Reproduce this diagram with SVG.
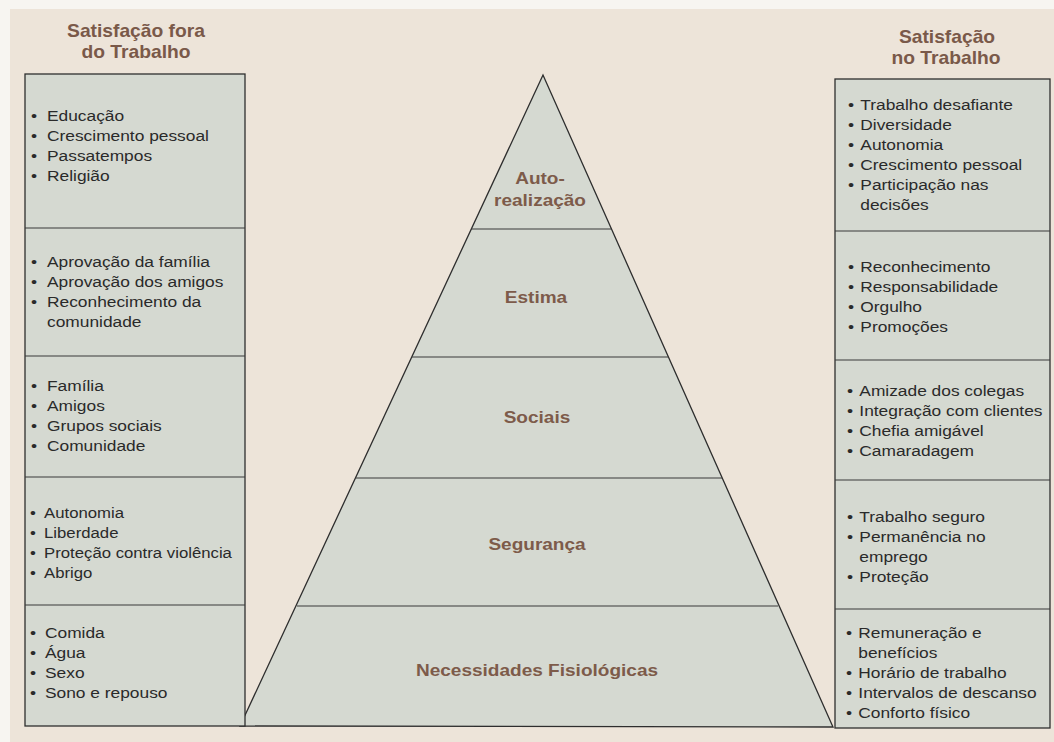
<svg xmlns="http://www.w3.org/2000/svg" width="1054" height="742" viewBox="0 0 1054 742">
<defs>
<style>
.bg{fill:#ede4d9}
.box{fill:#d5d9d1;stroke:#2e2e2e;stroke-width:1.3}
.div{stroke:#3a3a3a;stroke-width:1.1;fill:none}
.t{font-family:"Liberation Sans",Arial,sans-serif;font-size:15.5px;fill:#2a2a2a}
.h{font-family:"Liberation Sans",Arial,sans-serif;font-size:17.5px;font-weight:bold;fill:#7a5949;text-anchor:middle}
.p{font-family:"Liberation Sans",Arial,sans-serif;font-size:17px;font-weight:bold;fill:#7d5b4a;text-anchor:middle}
</style>
</defs>
<rect x="0" y="0" width="1054" height="742" fill="#f7f5f1"/>
<rect class="bg" x="10" y="9" width="1044" height="733"/>

<!-- Titles -->
<g id="title-left">
<text class="h" transform="translate(136,37) scale(1.1,1)">Satisfação fora</text>
<text class="h" transform="translate(136,58) scale(1.1,1)">do Trabalho</text>
</g>
<g id="title-right">
<text class="h" transform="translate(947,43) scale(1.1,1)">Satisfação</text>
<text class="h" transform="translate(946,64) scale(1.1,1)">no Trabalho</text>
</g>

<!-- Pyramid -->
<g id="pyramid">
<polygon class="box" points="543,75 240,726 833,727"/>
<line class="div" x1="471" y1="229" x2="611" y2="229"/>
<line class="div" x1="412" y1="357" x2="668" y2="357"/>
<line class="div" x1="356" y1="478" x2="722" y2="478"/>
<line class="div" x1="297" y1="606" x2="778" y2="606"/>
</g>
<g id="level-autorealizacao">
<text class="p" transform="translate(540,184) scale(1.12,1)">Auto-</text>
<text class="p" transform="translate(540,206) scale(1.12,1)">realização</text>
</g>
<g id="level-estima"><text class="p" transform="translate(536,303) scale(1.12,1)">Estima</text></g>
<g id="level-sociais"><text class="p" transform="translate(537,423) scale(1.12,1)">Sociais</text></g>
<g id="level-seguranca"><text class="p" transform="translate(537,550) scale(1.12,1)">Segurança</text></g>
<g id="level-fisiologicas"><text class="p" transform="translate(537,676) scale(1.12,1)">Necessidades Fisiológicas</text></g>

<!-- Left column -->
<g id="left-column">
<rect class="box" x="25" y="74" width="220" height="652"/>
<line class="div" x1="25" y1="228" x2="245" y2="228"/>
<line class="div" x1="25" y1="356" x2="245" y2="356"/>
<line class="div" x1="25" y1="477" x2="245" y2="477"/>
<line class="div" x1="25" y1="605" x2="245" y2="605"/>
</g>
<g id="left-autorealizacao" transform="translate(31,0) scale(1.12,1)">
<text class="t" x="0" y="121">•</text><text class="t" x="14.3" y="121">Educação</text>
<text class="t" x="0" y="141">•</text><text class="t" x="14.3" y="141">Crescimento pessoal</text>
<text class="t" x="0" y="161">•</text><text class="t" x="14.3" y="161">Passatempos</text>
<text class="t" x="0" y="181">•</text><text class="t" x="14.3" y="181">Religião</text>
</g>
<g id="left-estima" transform="translate(31,0) scale(1.12,1)">
<text class="t" x="0" y="267">•</text><text class="t" x="14.3" y="267">Aprovação da família</text>
<text class="t" x="0" y="287">•</text><text class="t" x="14.3" y="287">Aprovação dos amigos</text>
<text class="t" x="0" y="307">•</text><text class="t" x="14.3" y="307">Reconhecimento da</text>
<text class="t" x="14.3" y="327">comunidade</text>
</g>
<g id="left-sociais" transform="translate(31,0) scale(1.12,1)">
<text class="t" x="0" y="391">•</text><text class="t" x="14.3" y="391">Família</text>
<text class="t" x="0" y="411">•</text><text class="t" x="14.3" y="411">Amigos</text>
<text class="t" x="0" y="431">•</text><text class="t" x="14.3" y="431">Grupos sociais</text>
<text class="t" x="0" y="451">•</text><text class="t" x="14.3" y="451">Comunidade</text>
</g>
<g id="left-seguranca" transform="translate(30,0) scale(1.08,1)">
<text class="t" x="0" y="518">•</text><text class="t" x="13" y="518">Autonomia</text>
<text class="t" x="0" y="538">•</text><text class="t" x="13" y="538">Liberdade</text>
<text class="t" x="0" y="558">•</text><text class="t" x="13" y="558">Proteção contra violência</text>
<text class="t" x="0" y="578">•</text><text class="t" x="13" y="578">Abrigo</text>
</g>
<g id="left-fisiologicas" transform="translate(30,0) scale(1.12,1)">
<text class="t" x="0" y="638">•</text><text class="t" x="13.4" y="638">Comida</text>
<text class="t" x="0" y="658">•</text><text class="t" x="13.4" y="658">Água</text>
<text class="t" x="0" y="678">•</text><text class="t" x="13.4" y="678">Sexo</text>
<text class="t" x="0" y="698">•</text><text class="t" x="13.4" y="698">Sono e repouso</text>
</g>

<!-- Right column -->
<g id="right-column">
<rect class="box" x="835" y="79" width="215" height="649"/>
<line class="div" x1="835" y1="231" x2="1050" y2="231"/>
<line class="div" x1="835" y1="360" x2="1050" y2="360"/>
<line class="div" x1="835" y1="480" x2="1050" y2="480"/>
<line class="div" x1="835" y1="609" x2="1050" y2="609"/>
</g>
<g id="right-autorealizacao" transform="translate(848,0) scale(1.12,1)">
<text class="t" x="0" y="110">•</text><text class="t" x="11" y="110">Trabalho desafiante</text>
<text class="t" x="0" y="130">•</text><text class="t" x="11" y="130">Diversidade</text>
<text class="t" x="0" y="150">•</text><text class="t" x="11" y="150">Autonomia</text>
<text class="t" x="0" y="170">•</text><text class="t" x="11" y="170">Crescimento pessoal</text>
<text class="t" x="0" y="190">•</text><text class="t" x="11" y="190">Participação nas</text>
<text class="t" x="11" y="210">decisões</text>
</g>
<g id="right-estima" transform="translate(848,0) scale(1.12,1)">
<text class="t" x="0" y="272">•</text><text class="t" x="11" y="272">Reconhecimento</text>
<text class="t" x="0" y="292">•</text><text class="t" x="11" y="292">Responsabilidade</text>
<text class="t" x="0" y="312">•</text><text class="t" x="11" y="312">Orgulho</text>
<text class="t" x="0" y="332">•</text><text class="t" x="11" y="332">Promoções</text>
</g>
<g id="right-sociais" transform="translate(847,0) scale(1.12,1)">
<text class="t" x="0" y="396">•</text><text class="t" x="11" y="396">Amizade dos colegas</text>
<text class="t" x="0" y="416">•</text><text class="t" x="11" y="416">Integração com clientes</text>
<text class="t" x="0" y="436">•</text><text class="t" x="11" y="436">Chefia amigável</text>
<text class="t" x="0" y="456">•</text><text class="t" x="11" y="456">Camaradagem</text>
</g>
<g id="right-seguranca" transform="translate(847,0) scale(1.12,1)">
<text class="t" x="0" y="522">•</text><text class="t" x="11" y="522">Trabalho seguro</text>
<text class="t" x="0" y="542">•</text><text class="t" x="11" y="542">Permanência no</text>
<text class="t" x="11" y="562">emprego</text>
<text class="t" x="0" y="582">•</text><text class="t" x="11" y="582">Proteção</text>
</g>
<g id="right-fisiologicas" transform="translate(846,0) scale(1.12,1)">
<text class="t" x="0" y="638">•</text><text class="t" x="11" y="638">Remuneração e</text>
<text class="t" x="11" y="658">benefícios</text>
<text class="t" x="0" y="678">•</text><text class="t" x="11" y="678">Horário de trabalho</text>
<text class="t" x="0" y="698">•</text><text class="t" x="11" y="698">Intervalos de descanso</text>
<text class="t" x="0" y="718">•</text><text class="t" x="11" y="718">Conforto físico</text>
</g>

<g id="connectors"></g>
</svg>
